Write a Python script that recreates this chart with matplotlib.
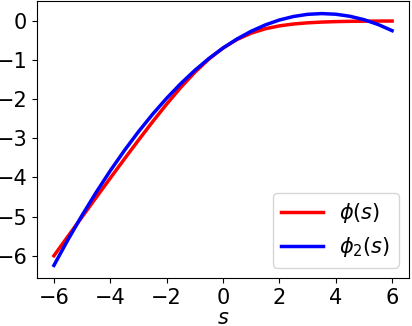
import numpy as np
import matplotlib
matplotlib.use('Agg')
import matplotlib.pyplot as plt

# values, step 0.5
s = np.arange(-6, 6.01, 0.5)
phi = [-6.003, -5.504, -5.007, -4.511, -4.018, -3.530, -3.049, -2.579, -2.127,
       -1.701, -1.313, -0.974, -0.693, -0.474, -0.313, -0.201, -0.127, -0.079,
       -0.049, -0.030, -0.018, -0.011, -0.007, -0.004, -0.003]
phi2 = [-6.249, -5.591, -4.968, -4.381, -3.829, -3.313, -2.832, -2.387, -1.977,
        -1.603, -1.264, -0.961, -0.693, -0.461, -0.264, -0.103, 0.023, 0.113,
        0.168, 0.187, 0.171, 0.119, 0.032, -0.091, -0.249]

plt.rcParams['font.size'] = 15

fig = plt.figure(figsize=(4.12, 3.26), dpi=100)
ax = fig.add_axes([37/412, 48/326, 372/412, 277/326])
ax.plot(s, phi, color='red', lw=2.5, label=r'$\phi(s)$')
ax.plot(s, phi2, color='blue', lw=2.5, label=r'$\phi_2(s)$')
ax.set_xticks([-6, -4, -2, 0, 2, 4, 6])
ax.set_yticks([0, -1, -2, -3, -4, -5, -6])
ax.set_xlabel('$s$', labelpad=0)
ax.legend(loc='lower right', fontsize=15)
fig.savefig('out.png', dpi=100)
